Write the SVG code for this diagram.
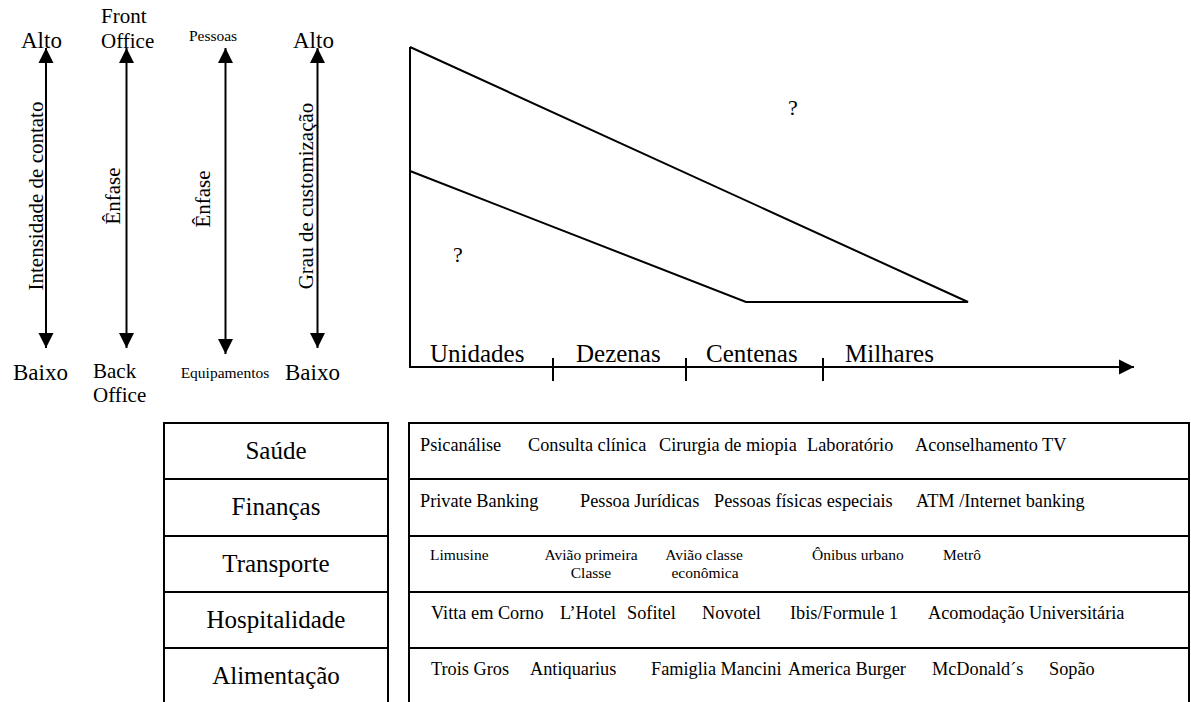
<svg xmlns="http://www.w3.org/2000/svg" width="1191" height="702" viewBox="0 0 1191 702">
<defs>
<style>
text{font-family:"Liberation Serif","Times New Roman",serif;fill:#000}
.ln{stroke:#000;stroke-width:2;fill:none}
.big{font-size:23px}
.mid{font-size:21px}
.sm{font-size:15.5px}
.ax{font-size:25px}
.lab{font-size:25px;text-anchor:middle}
.cell{font-size:18.3px}
.cell3{font-size:15.5px}
.c{text-anchor:middle}
</style>
<marker id="ah" markerUnits="userSpaceOnUse" markerWidth="16" markerHeight="16" viewBox="0 0 16 16" refX="15" refY="8" orient="auto">
<path d="M0,0.5 L15,8 L0,15.5 Z" fill="#000"/>
</marker>
</defs>
<rect width="1191" height="702" fill="#fff"/>

<g id="connectors">
<line class="ln" x1="46" y1="200" x2="46" y2="48" marker-end="url(#ah)"/>
<line class="ln" x1="46" y1="200" x2="46" y2="348" marker-end="url(#ah)"/>
<line class="ln" x1="126.5" y1="200" x2="126.5" y2="48" marker-end="url(#ah)"/>
<line class="ln" x1="126.5" y1="200" x2="126.5" y2="348" marker-end="url(#ah)"/>
<line class="ln" x1="225.5" y1="200" x2="225.5" y2="48" marker-end="url(#ah)"/>
<line class="ln" x1="225.5" y1="200" x2="225.5" y2="354" marker-end="url(#ah)"/>
<line class="ln" x1="317.5" y1="200" x2="317.5" y2="48" marker-end="url(#ah)"/>
<line class="ln" x1="317.5" y1="200" x2="317.5" y2="348" marker-end="url(#ah)"/>
<line class="ln" x1="410" y1="47" x2="410" y2="368"/>
<line class="ln" x1="409" y1="367" x2="1134" y2="367" marker-end="url(#ah)"/>
<line class="ln" x1="553" y1="358" x2="553" y2="381"/>
<line class="ln" x1="686" y1="358" x2="686" y2="381"/>
<line class="ln" x1="823" y1="358" x2="823" y2="381"/>
<polyline class="ln" points="410,47 968,302 746,302 410,171"/>
</g>

<g id="axis-intensidade">
<text class="big" x="21" y="48">Alto</text>
<text class="big" x="13" y="380">Baixo</text>
<text class="mid c" transform="translate(43,196) rotate(-90)">Intensidade de contato</text>
</g>
<g id="axis-office">
<text class="mid" x="101" y="23">Front</text>
<text class="mid" x="101" y="48">Office</text>
<text class="mid c" transform="translate(120,196) rotate(-90)">Ênfase</text>
<text class="mid" x="93" y="378">Back</text>
<text class="mid" x="93" y="402">Office</text>
</g>
<g id="axis-pessoas">
<text class="sm c" x="213" y="41">Pessoas</text>
<text class="mid c" transform="translate(210,199) rotate(-90)">Ênfase</text>
<text class="sm c" x="225" y="378">Equipamentos</text>
</g>
<g id="axis-customizacao">
<text class="big" x="293" y="48">Alto</text>
<text class="big" x="285" y="380">Baixo</text>
<text class="mid c" transform="translate(313,196) rotate(-90)">Grau de customização</text>
</g>

<g id="graph">
<text x="793" y="115" class="c" font-size="22">?</text>
<text x="458" y="262" class="c" font-size="22">?</text>
</g>

<g id="volume-axis">
<text class="ax" x="430" y="362">Unidades</text>
<text class="ax" x="576" y="362">Dezenas</text>
<text class="ax" x="706" y="362">Centenas</text>
<text class="ax" x="845" y="362">Milhares</text>
</g>

<g id="sector-table">
<rect class="ln" x="164" y="423" width="224" height="290"/>
<line class="ln" x1="164" y1="479" x2="388" y2="479"/>
<line class="ln" x1="164" y1="536" x2="388" y2="536"/>
<line class="ln" x1="164" y1="592" x2="388" y2="592"/>
<line class="ln" x1="164" y1="648" x2="388" y2="648"/>
<text class="lab" x="276" y="459">Saúde</text>
<text class="lab" x="276" y="515">Finanças</text>
<text class="lab" x="276" y="572">Transporte</text>
<text class="lab" x="276" y="628">Hospitalidade</text>
<text class="lab" x="276" y="684">Alimentação</text>
</g>

<g id="examples-table">
<rect class="ln" x="409" y="423" width="780" height="290"/>
<line class="ln" x1="409" y1="479" x2="1189" y2="479"/>
<line class="ln" x1="409" y1="536" x2="1189" y2="536"/>
<line class="ln" x1="409" y1="592" x2="1189" y2="592"/>
<line class="ln" x1="409" y1="648" x2="1189" y2="648"/>
</g>

<g id="row-saude">
<text class="cell" x="420" y="451">Psicanálise</text>
<text class="cell" x="528" y="451">Consulta clínica</text>
<text class="cell" x="659" y="451">Cirurgia de miopia</text>
<text class="cell" x="807" y="451">Laboratório</text>
<text class="cell" x="915" y="451">Aconselhamento TV</text>
</g>
<g id="row-financas">
<text class="cell" x="420" y="507">Private Banking</text>
<text class="cell" x="580" y="507">Pessoa Jurídicas</text>
<text class="cell" x="714" y="507">Pessoas físicas especiais</text>
<text class="cell" x="916" y="507">ATM /Internet banking</text>
</g>
<g id="row-transporte">
<text class="cell3" x="430" y="560">Limusine</text>
<text class="cell3 c" x="591" y="560">Avião primeira</text>
<text class="cell3 c" x="591" y="578">Classe</text>
<text class="cell3 c" x="704" y="560">Avião classe</text>
<text class="cell3 c" x="705" y="578">econômica</text>
<text class="cell3" x="812" y="560">Ônibus urbano</text>
<text class="cell3" x="943" y="560">Metrô</text>
</g>
<g id="row-hospitalidade">
<text class="cell" x="431" y="619">Vitta em Corno</text>
<text class="cell" x="560" y="619">L’Hotel</text>
<text class="cell" x="627" y="619">Sofitel</text>
<text class="cell" x="702" y="619">Novotel</text>
<text class="cell" x="790" y="619">Ibis/Formule 1</text>
<text class="cell" x="928" y="619">Acomodação Universitária</text>
</g>
<g id="row-alimentacao">
<text class="cell" x="431" y="675">Trois Gros</text>
<text class="cell" x="530" y="675">Antiquarius</text>
<text class="cell" x="651" y="675">Famiglia Mancini</text>
<text class="cell" x="788" y="675">America Burger</text>
<text class="cell" x="932" y="675">McDonald´s</text>
<text class="cell" x="1049" y="675">Sopão</text>
</g>
</svg>
